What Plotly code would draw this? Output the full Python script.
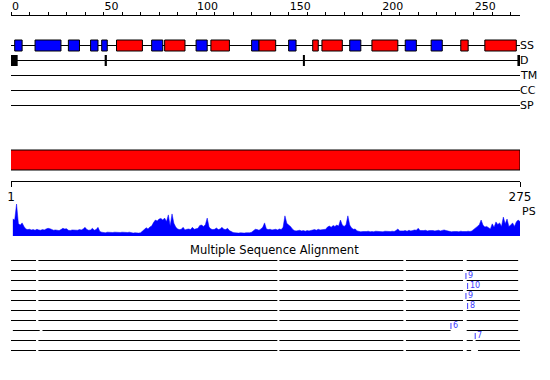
import plotly.graph_objects as go

# ---------------- data ----------------
SEQ_LEN = 275
TOP_TICKS = [0, 50, 100, 150, 200, 250]
RULER_TICKS = [1, 275]

TRACKS = ["SS", "D", "TM", "CC", "SP"]

# secondary structure (start, end) in sequence positions
SS_HELIX = [(57, 71), (83, 94), (108, 118), (134, 143), (163, 166), (168, 179),
            (195, 209), (243, 247), (256, 273)]
SS_STRAND = [(2, 6), (13, 27), (31, 37), (43, 47), (49, 52), (76, 82), (100, 106),
             (130, 134), (150, 154), (183, 189), (213, 219), (227, 233)]
# disorder segments
DISORDER = [(0, 3.6), (50.6, 51.8), (157.7, 158.8), (273.6, 276)]

# PS profile (relative score, %), residues 1..275
PS = [53, 50, 100, 38, 34, 41, 30, 22, 20, 21,
      19, 20, 18, 21, 19, 18, 20, 19, 22, 24,
      23, 20, 18, 19, 18, 17, 20, 24, 22, 23,
      18, 17, 19, 18, 17, 18, 20, 19, 22, 27,
      20, 18, 19, 24, 18, 20, 27, 14, 12, 11,
      10, 12, 11, 10, 11, 12, 11, 10, 11, 12,
      11, 10, 11, 12, 10, 9, 10, 9, 9, 10,
      14, 20, 26, 22, 28, 31, 42, 50, 47, 53,
      55, 50, 56, 45, 66, 31, 69, 40, 28, 22,
      20, 21, 27, 19, 21, 22, 20, 27, 21, 23,
      24, 33, 34, 30, 35, 56, 28, 22, 20, 21,
      25, 20, 22, 27, 21, 20, 24, 17, 13, 11,
      10, 9, 9, 10, 9, 9, 10, 9, 10, 12,
      18, 21, 20, 18, 22, 27, 41, 22, 20, 21,
      19, 20, 21, 19, 22, 20, 27, 63, 40, 34,
      30, 22, 17, 16, 17, 18, 16, 17, 15, 17,
      16, 18, 19, 20, 18, 21, 19, 20, 22, 21,
      28, 31, 27, 33, 30, 34, 31, 50, 34, 30,
      35, 63, 34, 25, 21, 22, 16, 14, 13, 14,
      13, 14, 15, 13, 14, 13, 15, 14, 13, 14,
      13, 15, 14, 13, 14, 15, 14, 17, 22, 16,
      15, 16, 17, 15, 18, 16, 17, 19, 18, 24,
      17, 16, 17, 18, 16, 17, 18, 17, 16, 17,
      18, 16, 17, 19, 17, 15, 14, 13, 14, 15,
      14, 13, 15, 14, 13, 14, 15, 14, 16, 20,
      24, 30, 35, 50, 34, 28, 30, 27, 22, 38,
      27, 44, 36, 41, 30, 59, 38, 53, 30, 34,
      41, 30, 44, 50, 45]
RESIDUES = list(range(1, SEQ_LEN + 1))

# multiple sequence alignment: aligned segments per row
MSA_ROWS = [
    [(0, 13.5), (14.8, 143.9), (145, 212), (213.4, 244.2), (246.2, 274)],
    [(0, 13.5), (14.8, 143.9), (145, 212), (213.4, 244.2), (246.2, 274)],
    [(0, 13.5), (14.8, 143.9), (145, 212), (213.4, 244.2), (246.2, 274)],
    [(0, 13.5), (14.8, 143.9), (145, 212), (213.4, 244.2), (246.2, 274)],
    [(0, 13.5), (14.8, 143.9), (145, 212), (213.4, 244.2), (246.2, 275)],
    [(0, 13.5), (14.8, 143.9), (145, 212), (213.4, 244.2), (246.2, 275)],
    [(0, 13.5), (14.8, 143.9), (145, 212), (213.4, 244.2), (246.2, 274)],
    [(1, 15.5), (17, 237.5), (246.2, 274)],
    [(0, 13.5), (14.8, 143.9), (145, 212), (213.4, 244.2), (246.2, 249.5), (251, 275)],
    [(0, 13.5), (14.8, 143.9), (145, 212), (213.4, 244.2), (246.2, 248.6), (252.3, 275)],
]
# insertions: (row index, position, inserted length)
INSERTIONS = [(2, 245.8, 9), (3, 246.7, 10), (4, 245.8, 9), (5, 246.7, 8),
              (7, 237.7, 6), (8, 250.8, 7)]

# ---------------- layout constants (pixels) ----------------
W, H = 550, 380
FONT = "DejaVu Sans"
TRACK_Y0, TRACK_DY = 45.5, 15
BOX_H = 11
RED_BAR = (150, 170)
MSA_Y0, MSA_DY = 260.5, 10
BLUE = "#0000ff"
RED = "#ff0000"
INS_COLOR = "#3c3cff"

fig = go.Figure()
shapes = []
annotations = []

# track base lines and labels
for i, name in enumerate(TRACKS):
    y = TRACK_Y0 + i * TRACK_DY
    shapes.append(dict(type="line", xref="x", yref="y", x0=0, x1=SEQ_LEN, y0=y, y1=y,
                       line=dict(color="black", width=1)))
    annotations.append(dict(x=SEQ_LEN, y=y, xref="x", yref="y", text=name, showarrow=False,
                            xanchor="left", yanchor="middle", xshift=-2,
                            font=dict(family=FONT, size=11, color="black")))

ss_y = TRACK_Y0
for (s, e) in SS_STRAND:
    shapes.append(dict(type="rect", xref="x", yref="y", x0=s, x1=e,
                       y0=ss_y - BOX_H / 2, y1=ss_y + BOX_H / 2,
                       fillcolor=BLUE, line=dict(color="black", width=1)))
for (s, e) in SS_HELIX:
    shapes.append(dict(type="rect", xref="x", yref="y", x0=s, x1=e,
                       y0=ss_y - BOX_H / 2, y1=ss_y + BOX_H / 2,
                       fillcolor=RED, line=dict(color="black", width=1)))

d_y = TRACK_Y0 + TRACK_DY
for (s, e) in DISORDER:
    shapes.append(dict(type="rect", xref="x", yref="y", x0=s, x1=e,
                       y0=d_y - BOX_H / 2, y1=d_y + BOX_H / 2,
                       fillcolor="black", line=dict(color="black", width=0)))

# red bar
shapes.append(dict(type="rect", xref="x", yref="y", x0=-0.5, x1=SEQ_LEN, y0=RED_BAR[0], y1=RED_BAR[1],
                   fillcolor=RED, line=dict(color="black", width=1)))

# PS profile
fig.add_trace(go.Scatter(x=RESIDUES, y=PS, xaxis="x", yaxis="y2", mode="lines",
                         fill="tozeroy", fillcolor=BLUE, line=dict(color=BLUE, width=0.5),
                         hoverinfo="skip", showlegend=False))
annotations.append(dict(x=SEQ_LEN, y=211, xref="x", yref="y", text="PS", showarrow=False,
                        xanchor="left", yanchor="middle",
                        font=dict(family=FONT, size=11, color="black")))

# MSA
annotations.append(dict(x=(274 - 11) / 509, y=250, xref="paper", yref="y",
                        text="Multiple Sequence Alignment",
                        showarrow=False, xanchor="center", yanchor="middle",
                        font=dict(family=FONT, size=11.5, color="black")))
for r, segs in enumerate(MSA_ROWS):
    y = MSA_Y0 + r * MSA_DY
    for (s, e) in segs:
        shapes.append(dict(type="line", xref="x", yref="y", x0=s, x1=e, y0=y, y1=y,
                           line=dict(color="black", width=1)))
for (r, pos, n) in INSERTIONS:
    y = MSA_Y0 + r * MSA_DY
    shapes.append(dict(type="line", xref="x", yref="y", x0=pos, x1=pos, y0=y - 7.5, y1=y - 1.5,
                       line=dict(color=INS_COLOR, width=1)))
    annotations.append(dict(x=pos, y=y - 5.5, xref="x", yref="y", text=str(n), showarrow=False,
                            xanchor="left", yanchor="middle", xshift=0,
                            font=dict(family=FONT, size=8, color=INS_COLOR)))

# invisible traces so the ruler axes exist
fig.add_trace(go.Scatter(x=[0, SEQ_LEN], y=[None, None], xaxis="x2", yaxis="y3",
                         mode="lines", showlegend=False, hoverinfo="skip"))
fig.add_trace(go.Scatter(x=[1, SEQ_LEN], y=[None, None], xaxis="x3", yaxis="y4",
                         mode="lines", showlegend=False, hoverinfo="skip"))

fig.update_layout(
    width=W, height=H,
    margin=dict(l=11, r=30, t=0, b=0, autoexpand=False),
    paper_bgcolor="white", plot_bgcolor="rgba(0,0,0,0)",
    showlegend=False,
    font=dict(family=FONT, color="black"),
    shapes=shapes, annotations=annotations,
    xaxis=dict(range=[0, SEQ_LEN], visible=False, fixedrange=True, anchor="y"),
    yaxis=dict(range=[H, 0], domain=[0, 1], visible=False, fixedrange=True, anchor="x"),
    # top ruler
    xaxis2=dict(range=[0, SEQ_LEN], anchor="y3", side="top",
                showline=True, linecolor="black", linewidth=1,
                tickmode="array", tickvals=TOP_TICKS, ticks="outside", ticklen=3,
                tickcolor="black", ticklabelposition="outside right",
                tickfont=dict(family=FONT, size=11, color="black"),
                minor=dict(dtick=10, tick0=0, ticks="outside", ticklen=3, tickcolor="black"),
                showgrid=False, zeroline=False, fixedrange=True),
    yaxis3=dict(range=[0, 1], domain=[0.6, 1 - 15.5 / H], visible=False, anchor="x2",
                fixedrange=True),
    # sequence ruler
    xaxis3=dict(range=[1, SEQ_LEN], anchor="y4", side="bottom",
                showline=True, linecolor="black", linewidth=1,
                tickmode="array", tickvals=RULER_TICKS, ticks="outside", ticklen=5,
                tickcolor="black", tickfont=dict(family=FONT, size=12, color="black"),
                showgrid=False, zeroline=False, fixedrange=True),
    yaxis4=dict(range=[0, 1], domain=[1 - 180.5 / H, 0.6], visible=False, anchor="x3",
                fixedrange=True),
    # PS profile
    yaxis2=dict(range=[0, 100], domain=[(H - 236) / H, (H - 204) / H], visible=False,
                anchor="x", fixedrange=True),
)

fig.write_html("out.html", config={"displayModeBar": False, "staticPlot": True},
               post_script="document.body.style.margin='0px';")
